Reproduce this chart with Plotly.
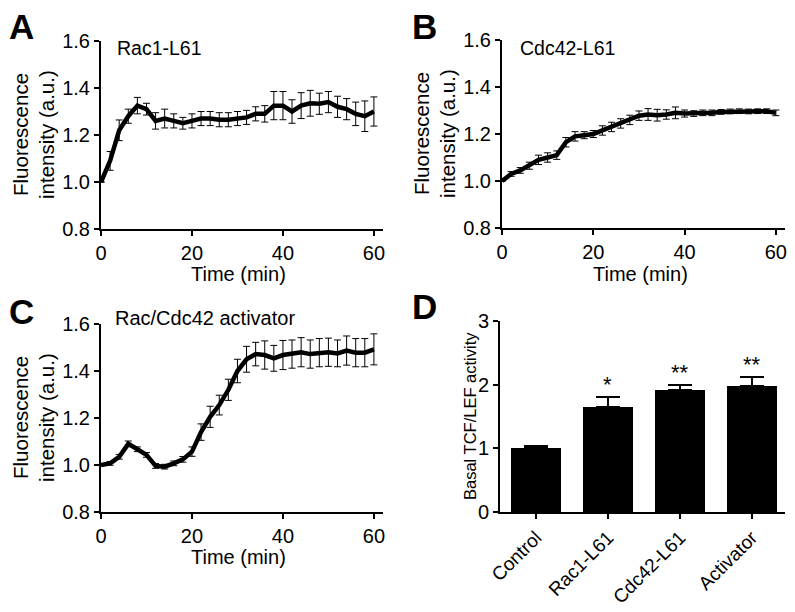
import plotly.graph_objects as go

# ---------------- data ----------------
time_min = list(range(0, 61, 2))

rac1_mean = [1.00, 1.09, 1.22, 1.28, 1.325, 1.31, 1.26, 1.27, 1.26, 1.25, 1.26,
             1.27, 1.27, 1.265, 1.265, 1.27, 1.275, 1.29, 1.29, 1.325, 1.325,
             1.30, 1.325, 1.335, 1.333, 1.34, 1.32, 1.31, 1.29, 1.28, 1.30]
rac1_err = [0.0, 0.04, 0.044, 0.03, 0.035, 0.025, 0.035, 0.04, 0.03, 0.025, 0.03,
            0.03, 0.03, 0.03, 0.03, 0.03, 0.03, 0.03, 0.035, 0.06, 0.06,
            0.05, 0.055, 0.055, 0.045, 0.045, 0.045, 0.045, 0.05, 0.065, 0.062]

cdc42_mean = [1.00, 1.03, 1.045, 1.065, 1.09, 1.10, 1.11, 1.165, 1.19, 1.195, 1.20,
              1.215, 1.23, 1.245, 1.26, 1.278, 1.283, 1.28, 1.283, 1.29, 1.287,
              1.287, 1.29, 1.29, 1.294, 1.296, 1.297, 1.296, 1.297, 1.297, 1.29]
cdc42_err = [0.0, 0.01, 0.012, 0.015, 0.02, 0.02, 0.018, 0.02, 0.02, 0.015, 0.015,
             0.02, 0.02, 0.02, 0.02, 0.02, 0.025, 0.025, 0.02, 0.025, 0.015,
             0.012, 0.012, 0.012, 0.01, 0.01, 0.01, 0.01, 0.01, 0.01, 0.012]

act_mean = [1.00, 1.007, 1.035, 1.09, 1.067, 1.043, 0.996, 0.993, 1.007, 1.024, 1.057,
            1.14, 1.205, 1.255, 1.32, 1.40, 1.45, 1.472, 1.468, 1.454, 1.468,
            1.472, 1.48, 1.472, 1.478, 1.48, 1.475, 1.487, 1.478, 1.478, 1.492]
act_err = [0.0, 0.008, 0.01, 0.012, 0.01, 0.01, 0.01, 0.01, 0.01, 0.012, 0.02,
           0.035, 0.045, 0.042, 0.045, 0.05, 0.055, 0.05, 0.06, 0.055, 0.062,
           0.06, 0.062, 0.06, 0.06, 0.06, 0.057, 0.062, 0.06, 0.06, 0.066]

bar_labels = ["Control", "Rac1-L61", "Cdc42-L61", "Activator"]
bar_values = [1.01, 1.65, 1.92, 1.98]
bar_errors = [0.02, 0.15, 0.08, 0.14]
bar_stars = ["", "*", "**", "**"]

y_ticks_line = [0.8, 1.0, 1.2, 1.4, 1.6]
x_ticks_time = [0, 20, 40, 60]
y_ticks_bar = [0, 1, 2, 3]

# ---------------- figure ----------------
# the page body has an 8 px margin, so the figure is drawn 8 px in from the
# window's top-left corner; positions below are window pixels.
OFF = 8
W, H = 795 - OFF, 612 - OFF
FONT = "Liberation Sans"


def px_x(p):
    return (p - OFF) / W


def px_y(p):
    return 1 - (p - OFF) / H


fig = go.Figure()

panels = [
    ("x", "y", rac1_mean, rac1_err),
    ("x2", "y2", cdc42_mean, cdc42_err),
    ("x3", "y3", act_mean, act_err),
]
for xa, ya, m, e in panels:
    fig.add_trace(go.Scatter(
        x=time_min, y=m, xaxis=xa, yaxis=ya, mode="lines",
        line=dict(color="black", width=4.5),
        error_y=dict(type="data", array=e, visible=True, color="black",
                     thickness=1, width=3.5),
        cliponaxis=False, showlegend=False,
    ))

fig.add_trace(go.Bar(
    x=list(range(len(bar_labels))), y=bar_values, xaxis="x4", yaxis="y4",
    marker=dict(color="black", line=dict(width=0)), width=0.69,
    error_y=dict(type="data", array=bar_errors, arrayminus=[0] * len(bar_errors),
                 symmetric=False, visible=True, color="black", thickness=2, width=12),
    showlegend=False,
))

axis_common = dict(showline=True, linecolor="black", linewidth=2, ticks="outside",
                   ticklen=5, tickwidth=2, tickcolor="black", showgrid=False,
                   zeroline=False, automargin=False,
                   tickfont=dict(family=FONT, size=20, color="black"))

line_y = dict(axis_common, range=[0.8, 1.6], tickvals=y_ticks_line, tickformat=".1f")
line_x = dict(axis_common, range=[0, 62], tickvals=x_ticks_time)

fig.update_layout(
    width=W, height=H, margin=dict(l=0, r=0, t=0, b=0),
    paper_bgcolor="white", plot_bgcolor="white",
    font=dict(family=FONT, color="black"),
    xaxis=dict(line_x, domain=[px_x(101), px_x(383)], anchor="y"),
    yaxis=dict(line_y, domain=[px_y(229), px_y(41)], anchor="x"),
    xaxis2=dict(line_x, domain=[px_x(502), px_x(785)], anchor="y2"),
    yaxis2=dict(line_y, domain=[px_y(228), px_y(40)], anchor="x2"),
    xaxis3=dict(line_x, domain=[px_x(101), px_x(383)], anchor="y3"),
    yaxis3=dict(line_y, domain=[px_y(512), px_y(324)], anchor="x3"),
    xaxis4=dict(axis_common, domain=[px_x(500), px_x(785)], anchor="y4",
                range=[-0.5, 3.46], tickvals=list(range(len(bar_labels))),
                ticktext=bar_labels, tickangle=-45,
                tickfont=dict(family=FONT, size=19, color="black")),
    yaxis4=dict(axis_common, domain=[px_y(512), px_y(321)], anchor="x4",
                range=[0, 3], tickvals=y_ticks_bar),
    bargap=0,
)

annotations = []


def text_ann(txt, x, y, size, angle=0, xanchor="center", bold=False):
    return dict(text=f"<b>{txt}</b>" if bold else txt, x=px_x(x), y=px_y(y),
                xref="paper", yref="paper", showarrow=False, textangle=angle,
                xanchor=xanchor, yanchor="middle",
                font=dict(family=FONT, size=size, color="black"))


# panel letters
for letter, x, y in [("A", 21, 26), ("B", 424, 26), ("C", 21, 311), ("D", 424, 306)]:
    annotations.append(text_ann(letter, x, y, 35, bold=True))

# axis titles (time panels)
for x_title, y_title in [(238, 274), (640, 274), (238, 557)]:
    annotations.append(text_ann("Time (min)", x_title, y_title, 20))
for x_off, y_mid in [(0, 135), (401, 134), (0, 418)]:
    annotations.append(text_ann("Fluorescence", 20 + x_off, y_mid, 20.5, angle=-90))
    annotations.append(text_ann("intensity (a.u.)", 46 + x_off, y_mid, 20.5, angle=-90))
# bar panel y title
annotations.append(text_ann("Basal TCF/LEF activity", 470, 416, 16.5, angle=-90))

# in-panel labels
for txt, x, y, s in [("Rac1-L61", 115, 48, 19.5), ("Cdc42-L61", 518, 48, 19.5),
                     ("Rac/Cdc42 activator", 113, 318, 20)]:
    annotations.append(text_ann(txt, x, y, s, xanchor="left"))

# significance stars
for i, s in enumerate(bar_stars):
    if s:
        annotations.append(dict(text=s, x=i, y=bar_values[i] + bar_errors[i],
                                xref="x4", yref="y4", showarrow=False,
                                yanchor="bottom", yshift=-2,
                                font=dict(family=FONT, size=22, color="black")))
fig.update_layout(annotations=annotations)

fig.write_html("out.html")
